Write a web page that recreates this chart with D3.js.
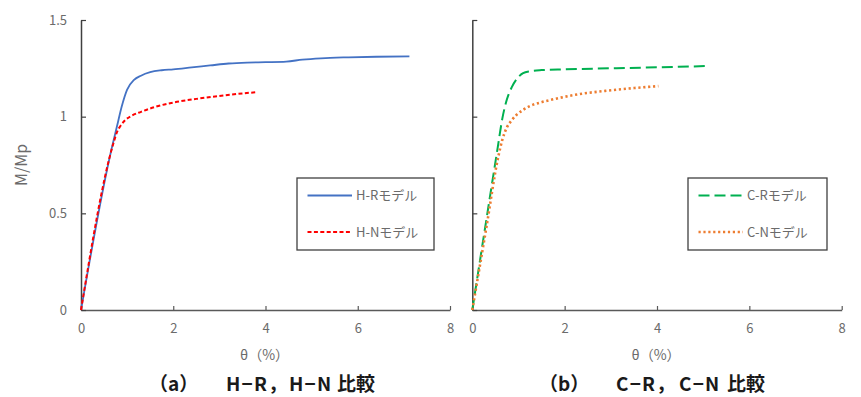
<!DOCTYPE html>
<html>
<head>
<meta charset="utf-8">
<script src="https://cdn.jsdelivr.net/npm/d3@7"></script>
<style>
  html, body { margin: 0; padding: 0; background: #fff; }
  svg { display: block; }
  text { font-family: "Noto Sans CJK JP", "Noto Sans", sans-serif; }
</style>
</head>
<body>
<svg id="chart" width="861" height="397"></svg>
<script>
// Rotation angle θ (%) vs normalised moment M/Mp
const hrTheta = [0, 0.65, 0.78, 0.88, 1.0, 1.15, 1.3, 1.5, 1.75, 2.0, 2.4, 2.8, 3.2, 3.6, 4.0, 4.45, 4.8, 5.2, 5.8, 6.4, 7.12];
const hrM     = [0, 0.82, 0.95, 1.05, 1.14, 1.19, 1.212, 1.23, 1.24, 1.245, 1.255, 1.265, 1.275, 1.28, 1.282, 1.285, 1.295, 1.302, 1.307, 1.31, 1.312];

const hnTheta = [0, 0.7, 0.78, 0.85, 0.95, 1.1, 1.3, 1.6, 2.0, 2.5, 3.0, 3.5, 3.82];
const hnM     = [0, 0.86, 0.92, 0.95, 0.98, 1.005, 1.025, 1.05, 1.073, 1.092, 1.107, 1.12, 1.127];

const crTheta = [0, 0.3, 0.55, 0.65, 0.75, 0.85, 0.98, 1.1, 1.25, 1.5, 2.0, 3.0, 4.0, 5.09];
const crM     = [0, 0.46, 0.84, 0.99, 1.09, 1.15, 1.2, 1.225, 1.235, 1.241, 1.245, 1.25, 1.255, 1.262];

const cnTheta = [0, 0.3, 0.56, 0.65, 0.75, 0.85, 0.96, 1.1, 1.25, 1.5, 1.7, 2.2, 2.9, 3.5, 4.03];
const cnM     = [0, 0.42, 0.79, 0.88, 0.945, 0.98, 1.01, 1.035, 1.055, 1.075, 1.087, 1.112, 1.134, 1.148, 1.158];

const xTicks = [0, 2, 4, 6, 8];
const yTicks = [0, 0.5, 1, 1.5];

const seriesNames = ["H-Rモデル", "H-Nモデル", "C-Rモデル", "C-Nモデル"];
// caption pieces: panel label, the two compared models, and the closing word
const captions = [
  ["（a）", "H−R，", "H−N", "比較"],
  ["（b）", "C−R，", "C−N", "比較"]
];
const xTitle = "θ（%）";
const yTitle = "M/Mp";

const zip = (xs, ys) => xs.map((x, i) => ({ x, y: ys[i] }));

const panels = [
  {
    x0: 81, x1: 450, showYLabels: true, caption: captions[0], captionX: 149,
    legend: { x: 297, y: 178, w: 137, h: 72 },
    series: [
      { name: seriesNames[0], data: zip(hrTheta, hrM), color: "#4472C4", width: 1.8, dash: null, cap: "butt" },
      { name: seriesNames[1], data: zip(hnTheta, hnM), color: "#FF0000", width: 2, dash: "4,2.4", cap: "butt" }
    ]
  },
  {
    x0: 472.3, x1: 841.7, showYLabels: false, caption: captions[1], captionX: 539,
    legend: { x: 688, y: 178, w: 139, h: 72 },
    series: [
      { name: seriesNames[2], data: zip(crTheta, crM), color: "#00B050", width: 2, dash: "11,5", cap: "butt" },
      { name: seriesNames[3], data: zip(cnTheta, cnM), color: "#ED7D31", width: 2.6, dash: "2.2,2.7", cap: "butt" }
    ]
  }
];

// caption piece offsets from the caption's left edge
const captionOffsets = [0, 77, 140, 188];

const svg = d3.select("#chart");
const yTop = 20, yBottom = 310;

panels.forEach(p => {
  const x = d3.scaleLinear().domain([0, 8]).range([p.x0, p.x1]);
  const y = d3.scaleLinear().domain([0, 1.5]).range([yBottom, yTop]);
  const g = svg.append("g");

  // x axis: ticks point up into the plot
  const xAxis = g.append("g").attr("transform", `translate(0,${yBottom})`)
    .call(d3.axisBottom(x).tickValues(xTicks).tickSizeInner(-4).tickSizeOuter(0).tickPadding(14));
  xAxis.select(".domain").attr("stroke", "#595959").attr("stroke-width", 1.6);
  xAxis.selectAll(".tick line").attr("stroke", "#595959").attr("stroke-width", 1.2);
  xAxis.selectAll(".tick text").attr("fill", "#6b6b6b").attr("font-size", 13)
    .attr("font-family", "'Noto Sans CJK JP', sans-serif");

  // y axis: ticks point right into the plot
  const yAxis = g.append("g").attr("transform", `translate(${p.x0},0)`)
    .call(d3.axisLeft(y).tickValues(yTicks).tickSizeInner(-5).tickSizeOuter(0).tickPadding(14)
      .tickFormat(p.showYLabels ? d3.format("") : () => ""));
  yAxis.select(".domain").attr("stroke", "#404040").attr("stroke-width", 1.5);
  yAxis.selectAll(".tick line").attr("stroke", "#404040").attr("stroke-width", 1.2);
  yAxis.selectAll(".tick text").attr("fill", "#6b6b6b").attr("font-size", 13)
    .attr("font-family", "'Noto Sans CJK JP', sans-serif");

  // curves
  const line = d3.line().x(d => x(d.x)).y(d => y(d.y)).curve(d3.curveMonotoneX);
  p.series.forEach(s => {
    g.append("path").datum(s.data)
      .attr("d", line)
      .attr("fill", "none")
      .attr("stroke", s.color)
      .attr("stroke-width", s.width)
      .attr("stroke-linecap", s.cap)
      .attr("stroke-linejoin", "round")
      .attr("stroke-dasharray", s.dash);
  });

  // legend
  const L = p.legend;
  const lg = g.append("g").attr("transform", `translate(${L.x},${L.y})`);
  lg.append("rect").attr("width", L.w).attr("height", L.h)
    .attr("fill", "#fff").attr("stroke", "#404040").attr("stroke-width", 1.3);
  p.series.forEach((s, i) => {
    const yy = 17.5 + i * 36.5;
    lg.append("line").attr("x1", 10.5).attr("x2", 55).attr("y1", yy).attr("y2", yy)
      .attr("stroke", s.color).attr("stroke-width", s.width)
      .attr("stroke-linecap", s.cap).attr("stroke-dasharray", s.dash);
    lg.append("text").attr("x", 59).attr("y", yy).attr("dy", "0.36em")
      .attr("fill", "#6b6b6b").attr("font-size", 13).text(s.name);
  });

  // axis titles
  g.append("text").attr("x", (p.x0 + p.x1) / 2 - 1).attr("y", 355).attr("dy", "0.36em")
    .attr("text-anchor", "middle").attr("fill", "#6b6b6b").attr("font-size", 14).text(xTitle);
  if (p.showYLabels) {
    g.append("text").attr("transform", `translate(21,165) rotate(-90)`).attr("dy", "0.36em")
      .attr("text-anchor", "middle").attr("fill", "#6b6b6b").attr("font-size", 16).text(yTitle);
  }

  // panel caption
  const cap = g.append("text").attr("y", 390.5)
    .attr("fill", "#1a1a1a").attr("font-size", 19).attr("font-weight", "bold");
  p.caption.forEach((piece, i) => {
    cap.append("tspan").attr("x", p.captionX + captionOffsets[i])
      .attr("letter-spacing", i === 1 || i === 2 ? 1.2 : 0).text(piece);
  });
});
</script>
</body>
</html>
